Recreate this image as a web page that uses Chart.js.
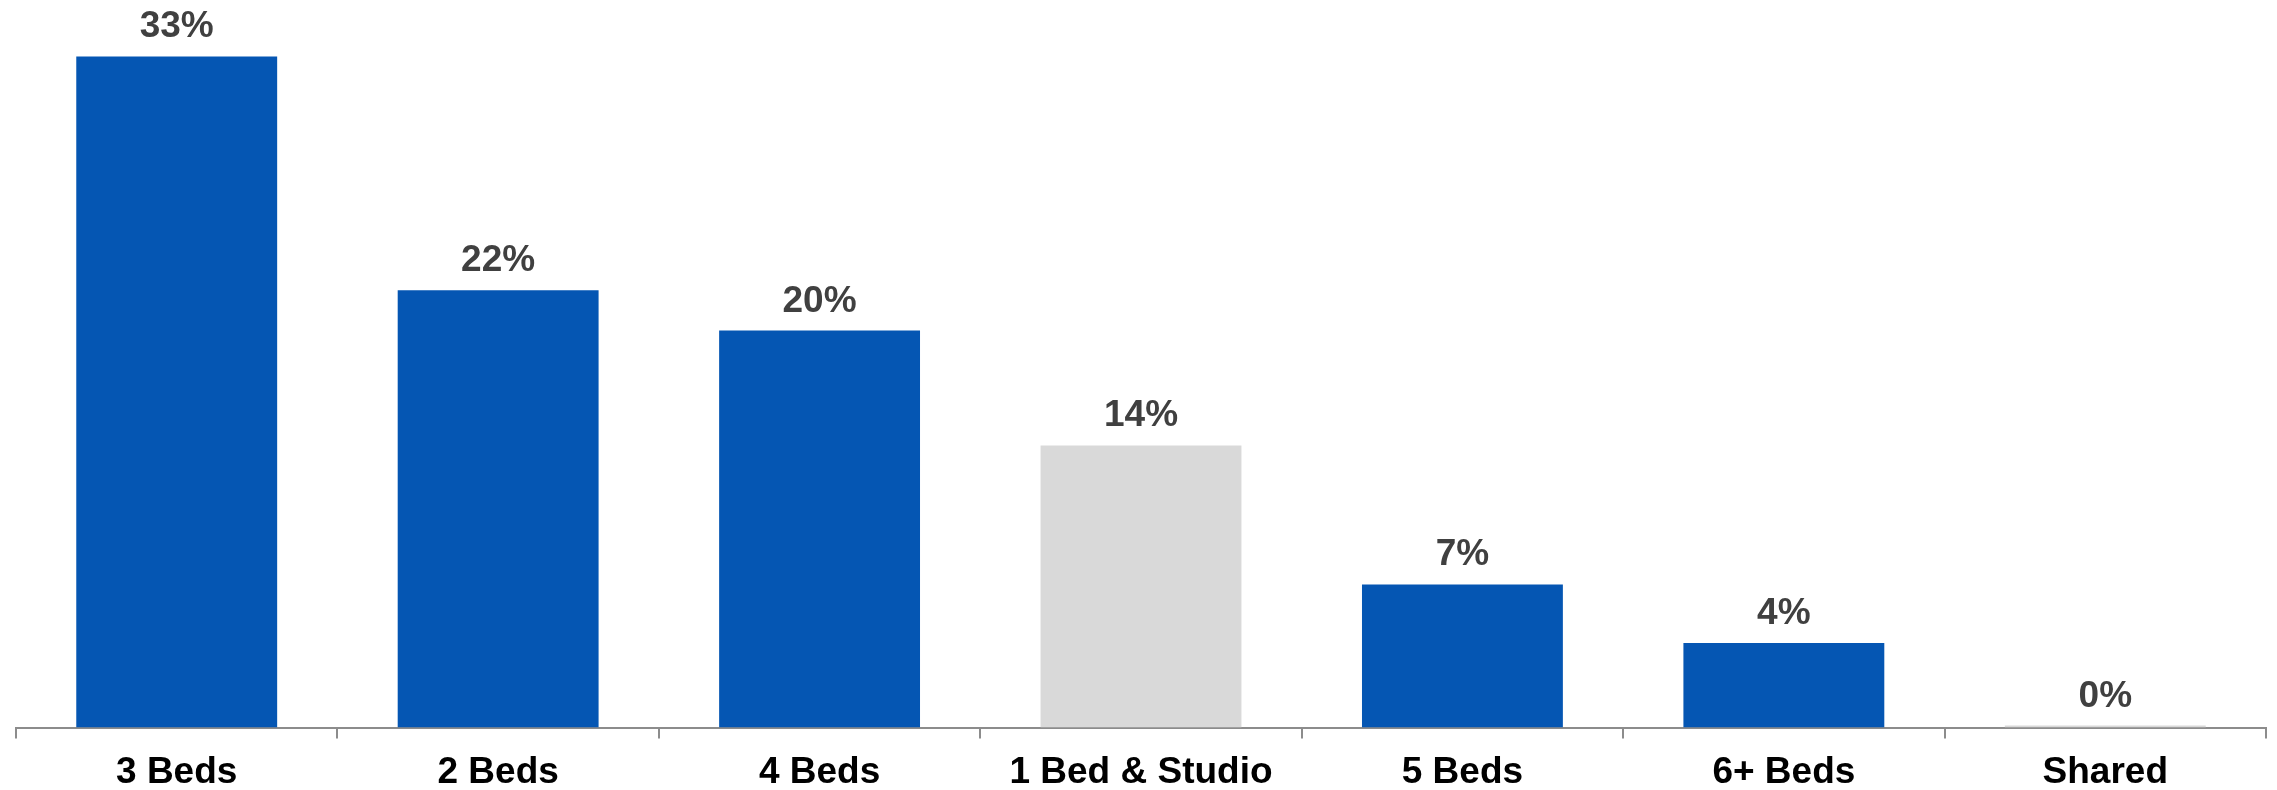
<!DOCTYPE html>
<html>
<head>
<meta charset="utf-8">
<script src="https://cdn.jsdelivr.net/npm/chart.js@4"></script>
<style>
  html, body { margin: 0; padding: 0; background: #ffffff; }
  #wrap { width: 2277px; height: 790px; position: relative; }
</style>
</head>
<body>
<div id="wrap"><canvas id="chart"></canvas></div>
<script>
// Share of homes by bedroom count (%)
const categories = ['3 Beds', '2 Beds', '4 Beds', '1 Bed & Studio', '5 Beds', '6+ Beds', 'Shared'];
const shares = [33.3, 21.7, 19.7, 14.0, 7.1, 4.2, 0.1];
const barColors = ['#0556B3', '#0556B3', '#0556B3', '#D9D9D9', '#0556B3', '#0556B3', '#D9D9D9'];

const FONT = '"Liberation Sans", Arial, Helvetica, sans-serif';

// Percentage labels above each bar
const valueLabels = {
  id: 'valueLabels',
  afterDatasetsDraw(chart) {
    const { ctx } = chart;
    const meta = chart.getDatasetMeta(0);
    ctx.save();
    ctx.font = 'bold 37px ' + FONT;
    ctx.fillStyle = '#404040';
    ctx.textAlign = 'center';
    ctx.textBaseline = 'alphabetic';
    meta.data.forEach((bar, i) => {
      const v = chart.data.datasets[0].data[i];
      ctx.fillText(Math.round(v) + '%', bar.x, bar.y - 19);
    });
    ctx.restore();
  }
};

new Chart(document.getElementById('chart'), {
  type: 'bar',
  data: {
    labels: categories,
    datasets: [{
      data: shares,
      backgroundColor: barColors,
      borderWidth: 0,
      barPercentage: 0.625,
      categoryPercentage: 1.0
    }]
  },
  options: {
    responsive: true,
    maintainAspectRatio: false,
    animation: false,
    layout: { padding: { left: 16, right: 11, top: 0, bottom: -17 } },
    plugins: {
      legend: { display: false },
      tooltip: { enabled: false }
    },
    scales: {
      x: {
        offset: true,
        grid: {
          display: true,
          offset: true,
          drawOnChartArea: false,
          drawTicks: true,
          tickLength: 11,
          color: '#8C8C8C',
          lineWidth: 2
        },
        border: { display: true, color: '#8C8C8C', width: 2 },
        ticks: {
          color: '#000000',
          font: { family: FONT, size: 37, weight: 'bold' },
          padding: 12,
          maxRotation: 0,
          autoSkip: false
        }
      },
      y: {
        display: false,
        min: 0,
        max: 36.1
      }
    }
  },
  plugins: [valueLabels]
});
</script>
</body>
</html>
